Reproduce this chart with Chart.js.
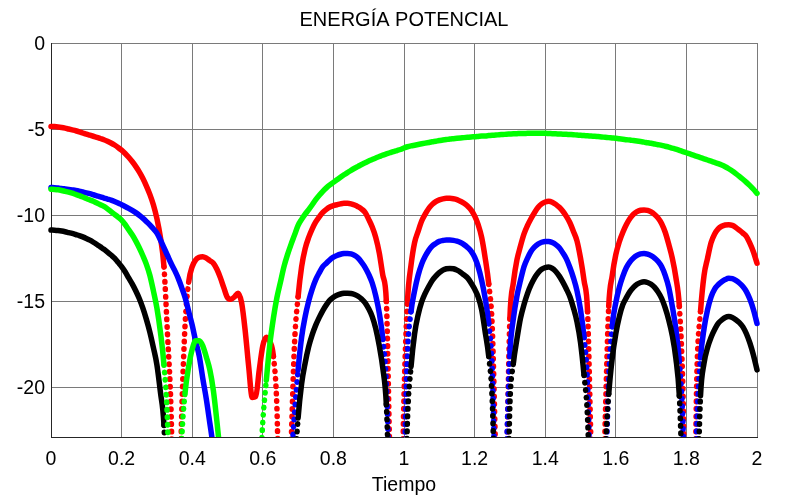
<!DOCTYPE html>
<html>
<head>
<meta charset="utf-8">
<script src="https://cdn.jsdelivr.net/npm/chart.js@4.4.1/dist/chart.umd.min.js"></script>
<style>html,body{margin:0;padding:0;background:#fff;}canvas{display:block;}</style>
</head>
<body>
<canvas id="c" width="786" height="499"></canvas>
<script>
const titleText = 'ENERGÍA POTENCIAL';
const xLabel = 'Tiempo';
const xTicks = [0, 0.2, 0.4, 0.6, 0.8, 1, 1.2, 1.4, 1.6, 1.8, 2];
const xTickLabels = ['0', '0.2', '0.4', '0.6', '0.8', '1', '1.2', '1.4', '1.6', '1.8', '2'];
const yTicks = [-20, -15, -10, -5, 0];
const yTickLabels = ['-20', '-15', '-10', '-5', '0'];

const times = [
0,0.01,0.02,0.03,0.04,0.05,0.06,0.07,0.08,0.09,
0.1,0.11,0.12,0.13,0.14,0.15,0.16,0.17,0.18,0.19,
0.2,0.21,0.22,0.23,0.24,0.25,0.26,0.27,0.28,0.29,
0.3,0.31,0.32,0.33,0.34,0.35,0.36,0.37,0.38,0.39,
0.4,0.41,0.42,0.43,0.44,0.45,0.46,0.47,0.48,0.49,
0.5,0.51,0.52,0.53,0.54,0.55,0.56,0.57,0.58,0.59,
0.6,0.61,0.62,0.63,0.64,0.65,0.66,0.67,0.68,0.69,
0.7,0.71,0.72,0.73,0.74,0.75,0.76,0.77,0.78,0.79,
0.8,0.81,0.82,0.83,0.84,0.85,0.86,0.87,0.88,0.89,
0.9,0.91,0.92,0.93,0.94,0.95,0.96,0.97,0.98,0.99,
1,1.01,1.02,1.03,1.04,1.05,1.06,1.07,1.08,1.09,
1.1,1.11,1.12,1.13,1.14,1.15,1.16,1.17,1.18,1.19,
1.2,1.21,1.22,1.23,1.24,1.25,1.26,1.27,1.28,1.29,
1.3,1.31,1.32,1.33,1.34,1.35,1.36,1.37,1.38,1.39,
1.4,1.41,1.42,1.43,1.44,1.45,1.46,1.47,1.48,1.49,
1.5,1.51,1.52,1.53,1.54,1.55,1.56,1.57,1.58,1.59,
1.6,1.61,1.62,1.63,1.64,1.65,1.66,1.67,1.68,1.69,
1.7,1.71,1.72,1.73,1.74,1.75,1.76,1.77,1.78,1.79,
1.8,1.81,1.82,1.83,1.84,1.85,1.86,1.87,1.88,1.89,
1.9,1.91,1.92,1.93,1.94,1.95,1.96,1.97,1.98,1.99,
2];

const redValues = [
-4.85,-4.86,-4.88,-4.91,-4.95,-5.00,-5.05,-5.10,-5.16,-5.23,
-5.30,-5.36,-5.42,-5.48,-5.55,-5.62,-5.71,-5.81,-5.93,-6.07,
-6.23,-6.42,-6.64,-6.89,-7.17,-7.49,-7.86,-8.30,-8.80,-9.40,
-10.2,-11.3,-13.0,-16.9,-21.3,-30,-30,-21.7,-16.3,-13.9,
-13.0,-12.6,-12.45,-12.42,-12.5,-12.65,-12.8,-13.15,-13.65,-14.25,
-14.8,-14.9,-14.75,-14.55,-15.1,-16.7,-18.8,-20.6,-20.55,-19.0,
-17.6,-17.1,-17.35,-18.2,-21.2,-30,-30,-30,-23.5,-17.4,
-14.75,-13.0,-11.95,-11.3,-10.8,-10.4,-10.1,-9.85,-9.67,-9.53,
-9.45,-9.4,-9.35,-9.32,-9.32,-9.35,-9.42,-9.52,-9.65,-9.85,
-10.25,-10.7,-11.3,-12.2,-13.5,-15.0,-24,-30,-30,-30,
-20.5,-14.95,-12.9,-11.6,-10.95,-10.35,-9.95,-9.62,-9.38,-9.22,
-9.12,-9.06,-9.03,-9.03,-9.05,-9.1,-9.2,-9.32,-9.48,-9.7,
-10.05,-10.55,-11.3,-12.5,-14.0,-16.5,-24,-30,-30,-25,
-16.0,-13.9,-12.6,-11.8,-11.1,-10.6,-10.2,-9.85,-9.55,-9.35,
-9.24,-9.2,-9.25,-9.38,-9.55,-9.78,-10.08,-10.45,-10.95,-11.5,
-12.5,-13.8,-15.6,-23.5,-30,-30,-30,-22.0,-15.3,-13.5,
-12.3,-11.55,-11.0,-10.55,-10.2,-9.95,-9.8,-9.72,-9.7,-9.73,
-9.82,-9.97,-10.18,-10.5,-11.0,-11.7,-12.5,-13.6,-15.3,-20.0,
-30,-30,-30,-19.0,-15.6,-13.5,-12.5,-11.6,-11.1,-10.8,
-10.65,-10.58,-10.56,-10.6,-10.72,-10.88,-11.05,-11.25,-11.65,-12.15,
-12.8];

const blueValues = [
-8.40,-8.41,-8.43,-8.45,-8.48,-8.51,-8.54,-8.57,-8.61,-8.66,
-8.71,-8.76,-8.82,-8.88,-8.94,-9.01,-9.07,-9.13,-9.21,-9.30,
-9.40,-9.50,-9.61,-9.73,-9.86,-10.01,-10.18,-10.37,-10.57,-10.80,
-11.05,-11.45,-11.9,-12.35,-12.8,-13.2,-13.65,-14.2,-14.8,-15.6,
-16.4,-17.35,-18.2,-19.5,-20.7,-22.1,-23.5,-25,-26,-27,
-28,-29,-30,-30,-30,-30,-30,-30,-30,-30,
-30,-30,-30,-30,-30,-30,-29,-28,-24.5,-21.5,
-19.0,-17.1,-15.9,-15.0,-14.3,-13.75,-13.35,-13.0,-12.8,-12.6,
-12.45,-12.35,-12.28,-12.24,-12.23,-12.26,-12.35,-12.5,-12.75,-13.05,
-13.45,-13.95,-14.7,-15.7,-17.2,-19.8,-26,-30,-30,-30,
-25,-18.0,-15.6,-14.4,-13.5,-12.85,-12.4,-12.05,-11.8,-11.65,
-11.53,-11.48,-11.45,-11.45,-11.47,-11.52,-11.6,-11.72,-11.88,-12.1,
-12.45,-13.0,-13.8,-14.85,-16.3,-19.0,-27,-30,-30,-24,
-18.0,-16.0,-14.7,-13.8,-13.0,-12.5,-12.1,-11.85,-11.68,-11.58,
-11.53,-11.53,-11.6,-11.72,-11.9,-12.2,-12.55,-13.05,-13.65,-14.4,
-15.5,-17.1,-19.8,-27,-30,-30,-30,-26,-19.5,-16.4,
-15.1,-14.2,-13.55,-13.05,-12.72,-12.5,-12.35,-12.26,-12.23,-12.27,
-12.36,-12.5,-12.7,-13.0,-13.5,-14.2,-15.3,-16.6,-18.5,-22.0,
-30,-30,-30,-22.0,-18.3,-16.6,-15.5,-14.75,-14.3,-14.05,
-13.88,-13.75,-13.68,-13.7,-13.8,-13.95,-14.15,-14.45,-14.9,-15.5,
-16.3];

const greenValues = [
-8.50,-8.51,-8.53,-8.57,-8.62,-8.67,-8.73,-8.80,-8.87,-8.95,
-9.04,-9.12,-9.2,-9.3,-9.4,-9.5,-9.64,-9.8,-9.96,-10.12,
-10.3,-10.55,-10.85,-11.15,-11.5,-11.9,-12.35,-12.85,-13.5,-14.4,
-15.4,-16.8,-18.7,-22,-30,-30,-30,-23.2,-20.3,-18.8,
-17.8,-17.3,-17.3,-17.6,-18.25,-19.0,-20.2,-22.0,-24,-26,
-28,-30,-30,-30,-30,-30,-30,-30,-28,-26,
-22.0,-19.6,-17.5,-16.0,-14.8,-13.9,-13.0,-12.3,-11.7,-11.15,
-10.6,-10.25,-9.95,-9.68,-9.4,-9.1,-8.85,-8.62,-8.42,-8.25,
-8.1,-7.95,-7.8,-7.66,-7.53,-7.4,-7.28,-7.17,-7.06,-6.96,
-6.86,-6.77,-6.68,-6.6,-6.52,-6.45,-6.38,-6.31,-6.25,-6.19,
-6.1,-6.03,-5.98,-5.94,-5.9,-5.86,-5.82,-5.78,-5.74,-5.71,
-5.67,-5.64,-5.61,-5.58,-5.56,-5.54,-5.52,-5.5,-5.48,-5.46,
-5.45,-5.43,-5.41,-5.4,-5.38,-5.36,-5.35,-5.33,-5.32,-5.3,
-5.29,-5.28,-5.27,-5.26,-5.26,-5.25,-5.25,-5.25,-5.25,-5.25,
-5.25,-5.26,-5.27,-5.28,-5.29,-5.3,-5.31,-5.32,-5.33,-5.35,
-5.36,-5.38,-5.39,-5.41,-5.42,-5.44,-5.46,-5.48,-5.5,-5.52,
-5.54,-5.57,-5.59,-5.62,-5.64,-5.67,-5.7,-5.73,-5.76,-5.8,
-5.83,-5.87,-5.91,-5.95,-6.0,-6.05,-6.11,-6.17,-6.24,-6.31,
-6.38,-6.45,-6.52,-6.59,-6.66,-6.73,-6.8,-6.87,-6.94,-7.01,
-7.09,-7.19,-7.31,-7.44,-7.59,-7.75,-7.92,-8.1,-8.29,-8.5,
-8.74];

const blackValues = [
-10.87,-10.88,-10.90,-10.93,-10.97,-11.02,-11.07,-11.13,-11.19,-11.27,
-11.36,-11.46,-11.58,-11.71,-11.85,-11.99,-12.15,-12.32,-12.5,-12.75,
-13.0,-13.3,-13.65,-14.0,-14.4,-14.85,-15.4,-16.05,-16.8,-17.7,
-18.7,-20.3,-22.2,-28,-30,-30,-30,-30,-30,-30,
-30,-30,-30,-30,-30,-30,-30,-30,-30,-30,
-30,-30,-30,-30,-30,-30,-30,-30,-30,-30,
-30,-30,-30,-30,-30,-30,-30,-30,-30,-25,
-21.8,-19.8,-18.6,-17.65,-16.95,-16.4,-15.95,-15.55,-15.22,-14.95,
-14.78,-14.66,-14.59,-14.55,-14.54,-14.56,-14.62,-14.72,-14.88,-15.1,
-15.45,-15.9,-16.6,-17.6,-18.9,-21.0,-27,-30,-30,-30,
-30,-21.8,-18.8,-16.9,-15.8,-15.05,-14.55,-14.15,-13.8,-13.55,
-13.35,-13.2,-13.12,-13.1,-13.12,-13.2,-13.32,-13.48,-13.65,-13.95,
-14.3,-14.75,-15.5,-16.8,-18.2,-20.8,-28,-30,-30,-30,
-21.0,-18.6,-17.2,-16.0,-15.2,-14.55,-14.05,-13.65,-13.35,-13.15,
-13.05,-13.02,-13.1,-13.28,-13.55,-13.9,-14.3,-14.75,-15.4,-16.2,
-17.4,-19.3,-21.8,-28,-30,-30,-30,-24,-20.4,-18.3,
-16.9,-15.9,-15.2,-14.8,-14.45,-14.2,-14.02,-13.92,-13.88,-13.92,
-14.02,-14.2,-14.48,-14.85,-15.4,-16.1,-17.0,-18.3,-20.5,-26,
-30,-30,-30,-27,-20.5,-18.6,-17.7,-17.1,-16.65,-16.3,
-16.1,-15.95,-15.9,-15.95,-16.08,-16.25,-16.5,-16.9,-17.45,-18.15,
-19.0];

const toPoints = vals => times.map((t, i) => ({x: t, y: vals[i]}));
const steep = ctx => Math.abs((ctx.p1.parsed.y - ctx.p0.parsed.y) / (ctx.p1.parsed.x - ctx.p0.parsed.x)) > 220;
const FONT = "'Liberation Sans', Arial, Helvetica, sans-serif";

function series(label, vals, color, order) {
  return {
    label, data: toPoints(vals), borderColor: color, backgroundColor: color,
    borderWidth: 5.5, pointRadius: 0, cubicInterpolationMode: 'monotone', order,
    borderCapStyle: 'round', borderJoinStyle: 'round',
    clip: {left: 4, top: 4, right: 4, bottom: 0},
    segment: { borderDash: ctx => steep(ctx) ? [0.5, 7] : undefined }
  };
}

new Chart(document.getElementById('c'), {
  type: 'line',
  data: {
    datasets: [
      series('rojo', redValues, '#ff0000', 3),
      series('azul', blueValues, '#0000ff', 2),
      series('negro', blackValues, '#000000', 1),
      series('verde', greenValues, '#00ff00', 0)
    ]
  },
  options: {
    responsive: false,
    animation: false,
    events: [],
    layout: { padding: { left: 0, right: 29, top: 0, bottom: 0 } },
    plugins: {
      legend: { display: false },
      tooltip: { enabled: false },
      title: {
        display: true, text: titleText, fullSize: false, color: '#000',
        font: { family: FONT, size: 20, weight: 'normal' },
        padding: { top: 8, bottom: 11 }
      }
    },
    scales: {
      x: {
        type: 'linear', min: 0, max: 2,
        afterBuildTicks: s => { s.ticks = xTicks.map(v => ({ value: v })); },
        afterFit: s => { s.height = 62; },
        grid: { color: '#7a7a7a', lineWidth: 1, drawTicks: false },
        border: { display: true, color: '#262626', width: 1 },
        ticks: {
          padding: 10.5, color: '#000', maxRotation: 0, autoSkip: false,
          font: { family: FONT, size: 19.5 },
          callback: (v, i) => xTickLabels[i]
        },
        title: {
          display: true, text: xLabel, color: '#000',
          font: { family: FONT, size: 19.5 },
          padding: { top: 0, bottom: 2 }
        }
      },
      y: {
        type: 'linear', min: -22.9, max: 0,
        afterBuildTicks: s => { s.ticks = yTicks.map(v => ({ value: v })); },
        afterFit: s => { s.width = 51; },
        grid: { color: '#7a7a7a', lineWidth: 1, drawTicks: false },
        border: { display: true, color: '#262626', width: 1 },
        ticks: {
          padding: 6, color: '#000', autoSkip: false, labelOffset: 2,
          font: { family: FONT, size: 19.5 },
          callback: (v, i) => yTickLabels[i]
        }
      }
    }
  }
});
</script>
</body>
</html>
